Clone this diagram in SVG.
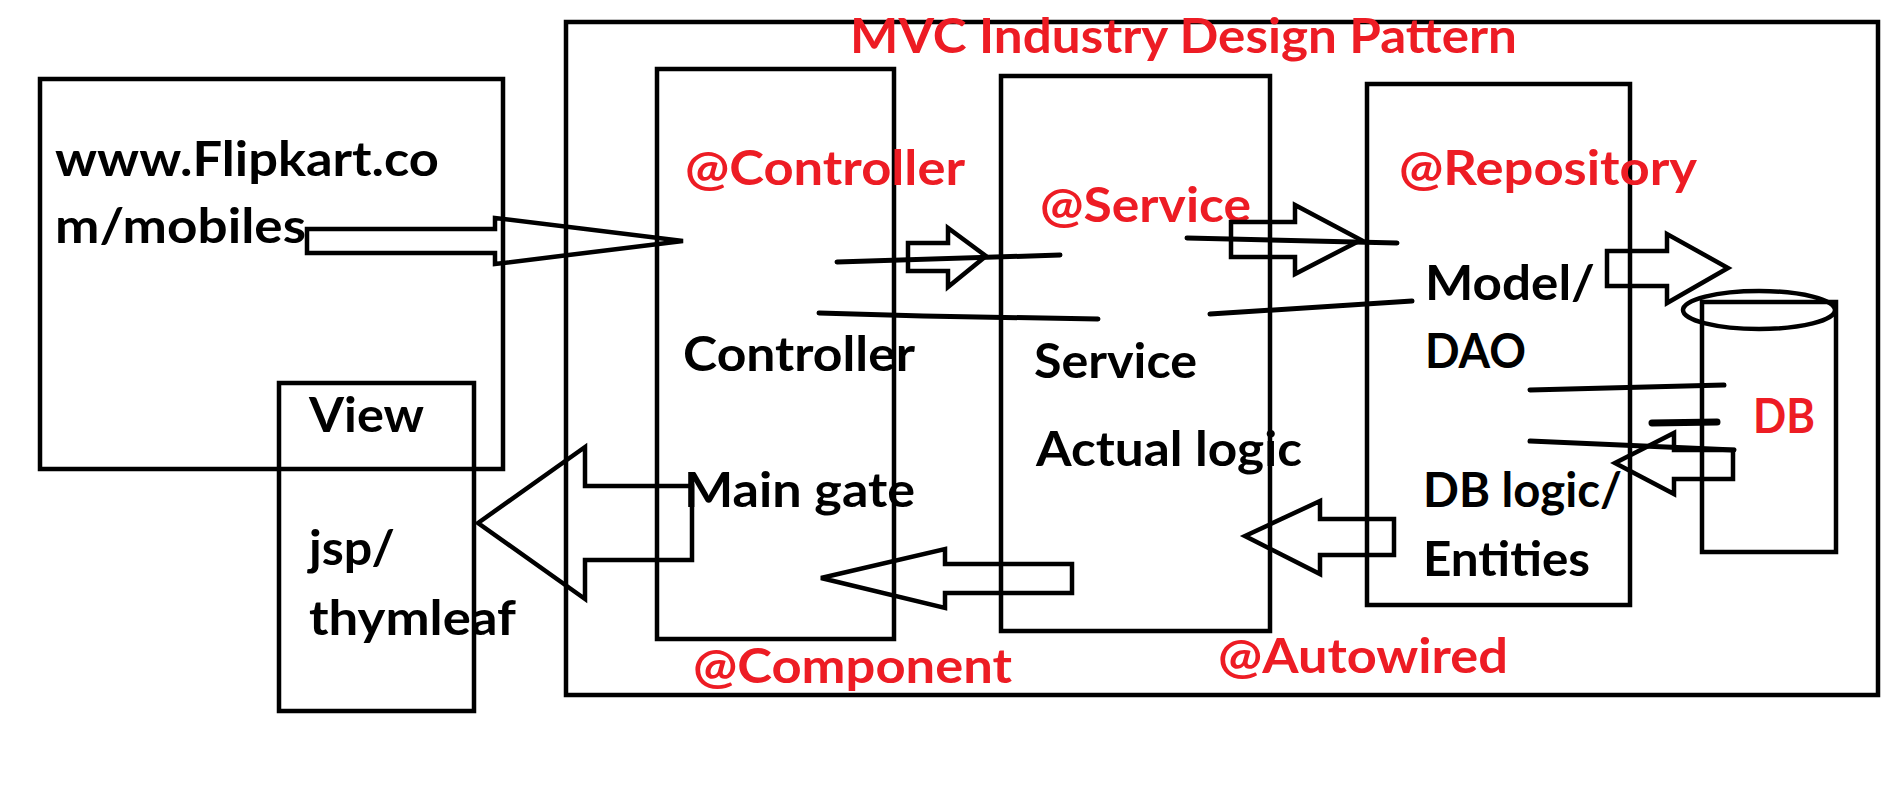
<svg xmlns="http://www.w3.org/2000/svg" width="1903" height="787" viewBox="0 0 1903 787">
<style>
.box{fill:none;stroke:#000;stroke-width:4.5}
.arr{fill:none;stroke:#000;stroke-width:4.5;stroke-linejoin:miter}
.ln{fill:none;stroke:#000;stroke-width:5;stroke-linecap:round}
.t{font-family:Lato,"Open Sans","Liberation Sans",sans-serif;font-weight:700;font-size:48px;fill:#000}
.r{fill:#ED1C24}
</style>
<rect width="1903" height="787" fill="#fff"/>
<g id="mvc-frame">
<rect class="box" x="566" y="22" width="1312" height="673"/>
<text class="t r" x="850" y="53" textLength="667" lengthAdjust="spacingAndGlyphs">MVC Industry Design Pattern</text>
</g>
<g id="browser">
<rect class="box" x="40" y="79" width="463" height="390"/>
<text class="t" x="55" y="176" textLength="384" lengthAdjust="spacingAndGlyphs">www.Flipkart.co</text>
<text class="t" x="55" y="243" textLength="251" lengthAdjust="spacingAndGlyphs">m/mobiles</text>
</g>
<g id="view">
<rect class="box" x="279" y="383" width="195" height="328"/>
<text class="t" x="309" y="432" textLength="115" lengthAdjust="spacingAndGlyphs">View</text>
<text class="t" x="309" y="565" textLength="86" lengthAdjust="spacingAndGlyphs">jsp/</text>
<text class="t" x="309" y="635" textLength="207" lengthAdjust="spacingAndGlyphs">thymleaf</text>
</g>
<g id="controller">
<rect class="box" x="657" y="69" width="237" height="570"/>
<text class="t r" x="685" y="185" textLength="280" lengthAdjust="spacingAndGlyphs">@Controller</text>
<text class="t" x="683" y="371" textLength="232" lengthAdjust="spacingAndGlyphs">Controller</text>
<text class="t" x="684" y="507" textLength="231" lengthAdjust="spacingAndGlyphs">Main gate</text>
<text class="t r" x="693" y="683" textLength="319" lengthAdjust="spacingAndGlyphs">@Component</text>
</g>
<g id="service">
<rect class="box" x="1001" y="76" width="269" height="555"/>
<text class="t r" x="1040" y="222" textLength="211" lengthAdjust="spacingAndGlyphs">@Service</text>
<text class="t" x="1034" y="378" textLength="163" lengthAdjust="spacingAndGlyphs">Service</text>
<text class="t" x="1036" y="466" textLength="266" lengthAdjust="spacingAndGlyphs">Actual logic</text>
<text class="t r" x="1218" y="673" textLength="290" lengthAdjust="spacingAndGlyphs">@Autowired</text>
</g>
<g id="repository">
<rect class="box" x="1367" y="84" width="263" height="521"/>
<text class="t r" x="1399" y="185" textLength="298" lengthAdjust="spacingAndGlyphs">@Repository</text>
<text class="t" x="1425" y="300" textLength="170" lengthAdjust="spacingAndGlyphs">Model/</text>
<text class="t" x="1425" y="368" textLength="101" lengthAdjust="spacingAndGlyphs">DAO</text>
<text class="t" x="1423" y="507" textLength="199" lengthAdjust="spacingAndGlyphs">DB logic/</text>
<text class="t" x="1423" y="576" textLength="167" lengthAdjust="spacingAndGlyphs">Entities</text>
</g>
<g id="db">
<rect class="box" x="1702" y="302" width="134" height="250"/>
<ellipse class="box" cx="1759" cy="310" rx="76" ry="19"/>
<text class="t r" x="1753" y="433" font-size="42" textLength="62" lengthAdjust="spacingAndGlyphs">DB</text>
</g>
<g id="connectors">
<polygon class="arr" points="307,229 495,229 495,218 683,241 495,264 495,253 307,253"/>
<polygon class="arr" points="908,243 948,243 948,228 986,256 948,287 948,271 908,271"/>
<polyline class="ln" points="837,262 1060,255"/>
<polyline class="ln" points="819,313 923,316 1098,319"/>
<polygon class="arr" points="1231,222 1295,222 1295,205 1361,240 1295,274 1295,257 1231,257"/>
<polyline class="ln" points="1187,238 1397,243"/>
<polyline class="ln" points="1210,314 1412,301"/>
<polygon class="arr" points="1607,251 1667,251 1667,234 1728,268 1667,303 1667,286 1607,286"/>
<polyline class="ln" points="1530,390 1724,385"/>
<polyline class="ln" points="1652,423 1717,422" style="stroke-width:7"/>
<polyline class="ln" points="1530,441 1734,450"/>
<polygon class="arr" points="1615,463 1674,433 1674,450 1733,450 1733,479 1674,479 1674,494"/>
<polygon class="arr" points="1245,536 1320,501 1320,519 1394,519 1394,555 1320,555 1320,574"/>
<polygon class="arr" points="821,578 945,549 945,564 1072,564 1072,593 945,593 945,608"/>
<polygon class="arr" points="478,523 585,447 585,486 692,486 692,560 585,560 585,599"/>
</g>
</svg>
